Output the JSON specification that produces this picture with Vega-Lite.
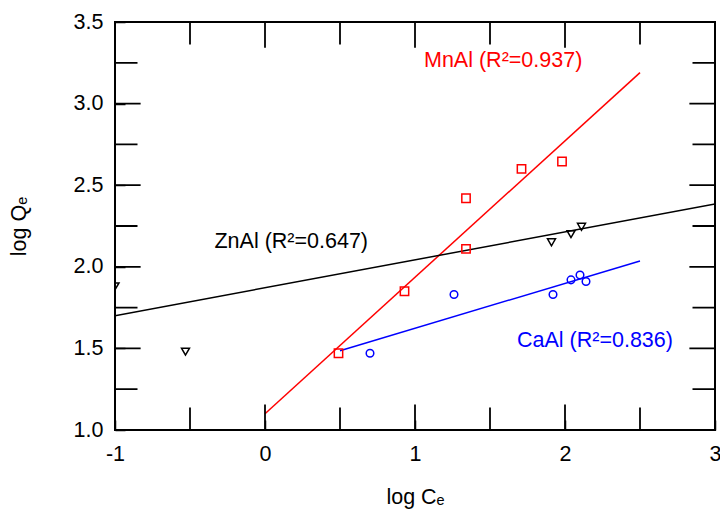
{
  "$schema": "https://vega.github.io/schema/vega-lite/v6.json",
  "width": 600,
  "height": 408,
  "autosize": {"type": "none"},
  "padding": {"left": 115, "top": 22, "right": 5, "bottom": 86},
  "background": "white",
  "config": {
    "view": {"stroke": "black", "strokeWidth": 2},
    "font": "Liberation Sans",
    "axis": {"domain": false, "grid": false, "ticks": true, "tickColor": "black", "tickWidth": 1.5, "labelFont": "Liberation Sans", "labelFontSize": 21.5, "labelColor": "black", "labelFlush": false, "labelBound": false, "labelOverlap": false, "titleFont": "Liberation Sans", "titleFontSize": 21.5, "titleFontWeight": "normal", "titleColor": "black"}
  },
  "datasets": {
    "points": [
      {"series": "MnAl", "x": 0.49, "y": 1.47},
      {"series": "MnAl", "x": 0.93, "y": 1.85},
      {"series": "MnAl", "x": 1.34, "y": 2.11},
      {"series": "MnAl", "x": 1.34, "y": 2.42},
      {"series": "MnAl", "x": 1.71, "y": 2.60},
      {"series": "MnAl", "x": 1.98, "y": 2.645},
      {"series": "ZnAl", "x": -1.0, "y": 1.88},
      {"series": "ZnAl", "x": -0.53, "y": 1.48},
      {"series": "ZnAl", "x": 1.91, "y": 2.15},
      {"series": "ZnAl", "x": 2.04, "y": 2.20},
      {"series": "ZnAl", "x": 2.11, "y": 2.245},
      {"series": "CaAl", "x": 0.70, "y": 1.47},
      {"series": "CaAl", "x": 1.26, "y": 1.83},
      {"series": "CaAl", "x": 1.92, "y": 1.83},
      {"series": "CaAl", "x": 2.04, "y": 1.92},
      {"series": "CaAl", "x": 2.10, "y": 1.95},
      {"series": "CaAl", "x": 2.14, "y": 1.91}
    ],
    "lines": [
      {"series": "MnAl", "x": 0.0, "y": 1.10},
      {"series": "MnAl", "x": 2.5, "y": 3.19},
      {"series": "ZnAl", "x": -1.0, "y": 1.70},
      {"series": "ZnAl", "x": 3.0, "y": 2.385},
      {"series": "CaAl", "x": 0.5, "y": 1.486},
      {"series": "CaAl", "x": 2.5, "y": 2.036}
    ],
    "labels": [
      {"series": "MnAl", "x": 1.06, "y": 3.226, "text": "MnAl (R²=0.937)"},
      {"series": "ZnAl", "x": -0.337, "y": 2.113, "text": "ZnAl (R²=0.647)"},
      {"series": "CaAl", "x": 1.68, "y": 1.51, "text": "CaAl (R²=0.836)"}
    ],
    "xticks": [
      {"v": -0.5, "kind": "minor"}, {"v": 0, "kind": "major"}, {"v": 0.5, "kind": "minor"},
      {"v": 1, "kind": "major"}, {"v": 1.5, "kind": "minor"}, {"v": 2, "kind": "major"}, {"v": 2.5, "kind": "minor"}
    ],
    "yticks": [
      {"v": 1.25, "kind": "minor"}, {"v": 1.5, "kind": "major"}, {"v": 1.75, "kind": "minor"},
      {"v": 2, "kind": "major"}, {"v": 2.25, "kind": "minor"}, {"v": 2.5, "kind": "major"},
      {"v": 2.75, "kind": "minor"}, {"v": 3, "kind": "major"}, {"v": 3.25, "kind": "minor"}
    ]
  },
  "resolve": {"axis": {"x": "independent", "y": "independent"}},
  "layer": [
    {
      "data": {"name": "lines"},
      "mark": {"type": "line", "strokeWidth": 1.5, "clip": true},
      "encoding": {
        "x": {"field": "x", "type": "quantitative", "scale": {"domain": [-1, 3], "nice": false, "zero": false},
          "axis": {"orient": "bottom", "values": [-1, 0, 1, 2, 3], "labelExpr": "'' + datum.value", "offset": -10, "tickSize": 10, "labelPadding": 13, "title": "log Cₑ", "titlePadding": 22}},
        "y": {"field": "y", "type": "quantitative", "scale": {"domain": [1, 3.5], "nice": false, "zero": false},
          "axis": {"orient": "left", "values": [1, 1.5, 2, 2.5, 3, 3.5], "format": ".1f", "offset": -10, "tickSize": 10, "labelPadding": 12, "title": "log Qₑ", "titlePadding": 43}},
        "color": {"field": "series", "type": "nominal", "scale": {"domain": ["MnAl", "ZnAl", "CaAl"], "range": ["#ff0000", "#000000", "#0000ff"]}, "legend": null},
        "detail": {"field": "series"}
      }
    },
    {
      "data": {"name": "points"},
      "mark": {"type": "point", "filled": false, "strokeWidth": 1.5, "clip": true, "opacity": 1},
      "encoding": {
        "x": {"field": "x", "type": "quantitative", "axis": null},
        "y": {"field": "y", "type": "quantitative", "axis": null},
        "color": {"field": "series", "type": "nominal", "legend": null},
        "shape": {"field": "series", "type": "nominal", "scale": {"domain": ["MnAl", "ZnAl", "CaAl"], "range": ["square", "triangle-down", "circle"]}, "legend": null},
        "size": {"field": "series", "type": "nominal", "scale": {"domain": ["MnAl", "ZnAl", "CaAl"], "range": [70, 45, 50]}, "legend": null}
      }
    },
    {
      "data": {"name": "labels"},
      "mark": {"type": "text", "align": "left", "baseline": "alphabetic", "fontSize": 21.5, "font": "Liberation Sans"},
      "encoding": {
        "x": {"field": "x", "type": "quantitative", "axis": null},
        "y": {"field": "y", "type": "quantitative", "axis": null},
        "text": {"field": "text"},
        "color": {"field": "series", "type": "nominal", "legend": null}
      }
    },
    {
      "data": {"name": "xticks"},
      "mark": {"type": "tick", "orient": "vertical", "color": "black", "opacity": 1, "thickness": 1.8, "clip": true},
      "encoding": {
        "x": {"field": "v", "type": "quantitative", "axis": null},
        "y": {"datum": 1, "type": "quantitative", "axis": null},
        "size": {"field": "kind", "type": "nominal", "scale": {"domain": ["major", "minor"], "range": [22, 12]}, "legend": null}
      }
    },
    {
      "data": {"name": "xticks"},
      "mark": {"type": "tick", "orient": "vertical", "color": "black", "opacity": 1, "thickness": 1.8, "clip": true},
      "encoding": {
        "x": {"field": "v", "type": "quantitative", "axis": null},
        "y": {"datum": 3.5, "type": "quantitative", "axis": null},
        "size": {"field": "kind", "type": "nominal", "scale": {"domain": ["major", "minor"], "range": [22, 12]}, "legend": null}
      }
    },
    {
      "data": {"name": "yticks"},
      "mark": {"type": "tick", "orient": "horizontal", "color": "black", "opacity": 1, "thickness": 1.8, "clip": true},
      "encoding": {
        "y": {"field": "v", "type": "quantitative", "axis": null},
        "x": {"datum": -1, "type": "quantitative", "axis": null},
        "size": {"field": "kind", "type": "nominal", "scale": {"domain": ["major", "minor"], "range": [22, 12]}, "legend": null}
      }
    },
    {
      "data": {"name": "yticks"},
      "mark": {"type": "tick", "orient": "horizontal", "color": "black", "opacity": 1, "thickness": 1.8, "clip": true},
      "encoding": {
        "y": {"field": "v", "type": "quantitative", "axis": null},
        "x": {"datum": 3, "type": "quantitative", "axis": null},
        "size": {"field": "kind", "type": "nominal", "scale": {"domain": ["major", "minor"], "range": [22, 12]}, "legend": null}
      }
    }
  ]
}
